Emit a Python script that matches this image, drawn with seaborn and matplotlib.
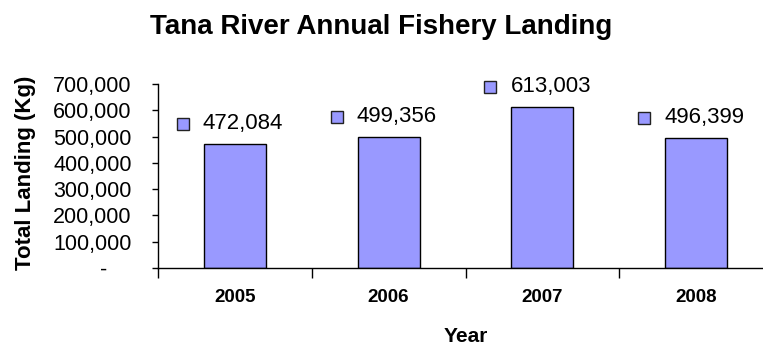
import matplotlib
matplotlib.use("Agg")
import matplotlib.pyplot as plt
import matplotlib.transforms as mtransforms
from matplotlib.ticker import FuncFormatter, FixedLocator
import seaborn as sns
import pandas as pd

# Annual landings, Tana River fishery
years = ["2005", "2006", "2007", "2008"]
landings_kg = [472084, 499356, 613003, 496399]
y_ticks = [0, 100000, 200000, 300000, 400000, 500000, 600000, 700000]

title = "Tana River Annual Fishery Landing"
x_title = "Year"
y_title = "Total Landing (Kg)"

bar_color = "#9999FF"

sns.set_theme(style="white")
plt.rcParams["font.family"] = ["Liberation Sans", "DejaVu Sans"]
plt.rcParams["text.color"] = "black"
plt.rcParams["xtick.color"] = "black"
plt.rcParams["ytick.color"] = "black"
plt.rcParams["axes.labelcolor"] = "black"

df = pd.DataFrame({"Year": years, "Landing": landings_kg})

fig = plt.figure(figsize=(7.63, 3.45), dpi=100)
W, H = 763, 345
# plot area in pixels: x 158..773 (runs slightly past the right edge), y 84..268
ax = fig.add_axes([158 / W, 1 - 268 / H, (773 - 158) / W, (268 - 84) / H])

sns.barplot(data=df, x="Year", y="Landing", order=years, color=bar_color,
            edgecolor="black", linewidth=1.0, width=0.403, saturation=1,
            ax=ax)

ax.set_xlim(-0.5, 3.5)
ax.set_ylim(0, 700000)
ax.set_xlabel("")
ax.set_ylabel("")

for side in ("top", "right"):
    ax.spines[side].set_visible(False)
for side in ("left", "bottom"):
    ax.spines[side].set_color("black")
    ax.spines[side].set_linewidth(1.0)


def acct_fmt(v, pos):
    # accounting style: zero is a dash padded by two digit widths
    if v == 0:
        return "-\u2007\u2007"
    return f"{int(v):,}"


ax.yaxis.set_major_locator(FixedLocator(y_ticks))
ax.yaxis.set_major_formatter(FuncFormatter(acct_fmt))
ax.tick_params(axis="y", which="major", direction="out", length=4, width=1,
               color="black", pad=15, labelsize=15.5, labelcolor="black", left=True)

# x axis: labels at category centres, tick marks between categories
ax.tick_params(axis="x", which="major", length=0, pad=15, labelsize=13.5,
               labelcolor="black")
for lbl in ax.get_xticklabels():
    lbl.set_fontweight("bold")
ax.xaxis.set_minor_locator(FixedLocator([-0.5, 0.5, 1.5, 2.5]))
ax.tick_params(axis="x", which="minor", direction="out", length=7, width=1,
               color="black", bottom=True)

# value labels with a small legend-style key square
for patch, val in zip(ax.patches, landings_kg):
    left = patch.get_x()
    top = patch.get_height()
    ax.annotate(f"{val:,}", xy=(left, top), xytext=(-1, 20),
                textcoords="offset pixels", ha="left", va="center",
                fontsize=16, color="black")
    key_tr = mtransforms.offset_copy(ax.transData, fig=fig, x=-21, y=20, units="dots")
    ax.plot([left], [top], transform=key_tr, marker="s", markersize=8.6,
            markerfacecolor=bar_color, markeredgecolor="#222222",
            markeredgewidth=1.0, linestyle="none", clip_on=False)

fig.text(381 / W, 1 - 34 / H, title, ha="center", va="baseline",
         fontsize=20, fontweight="bold", color="black")
fig.text(26 / W, 1 - 173 / H, y_title, ha="center", va="center",
         rotation=90, fontsize=16, fontweight="bold", color="black")
fig.text(466 / W, 1 - 337 / H, x_title, ha="center", va="center",
         fontsize=15, fontweight="bold", color="black")

fig.savefig("out.png", dpi=100, facecolor="white")
